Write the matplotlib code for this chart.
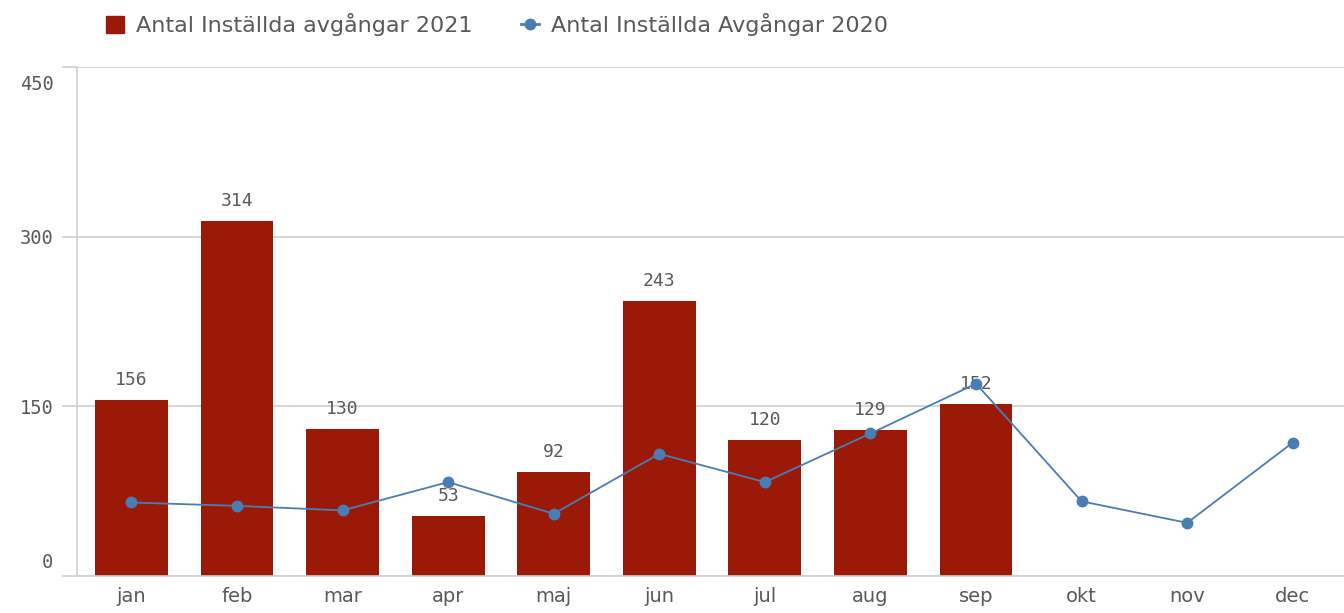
import matplotlib
matplotlib.use("Agg")
from matplotlib import pyplot as plt
from matplotlib.patches import Patch
from matplotlib.lines import Line2D
import matplotlib.transforms as mtransforms
import numpy as np

months = ['jan', 'feb', 'mar', 'apr', 'maj', 'jun', 'jul', 'aug', 'sep', 'okt', 'nov', 'dec']
cancelled_2021 = [156, 314, 130, 53, 92, 243, 120, 129, 152]
cancelled_2020 = [65, 62, 58, 83, 55, 108, 83, 126, 170, 66, 47, 118]
y_ticks = [0, 150, 300, 450]

BAR = '#9b1a07'
LINE = '#4a7db3'
GRID = '#d0d0d0'
TXT = '#595959'
SANS = ['DejaVu Sans']
MONO = ['DejaVu Sans Mono']

fig = plt.figure(figsize=(13.44, 6.13), dpi=100)
ax = fig.add_axes([77 / 1344, 1 - 576 / 613, 1 - 77 / 1344, (576 - 67) / 613])

x = np.arange(len(months))
xb = x[:len(cancelled_2021)] + 0.015
ax.bar(xb, cancelled_2021, width=0.69, color=BAR, zorder=2)
for xi, v in zip(xb, cancelled_2021):
    ax.annotate(str(v), (xi, v), xytext=(0, 11), textcoords='offset pixels',
                ha='center', va='bottom', fontsize=13, family=MONO, color=TXT, zorder=3)
ax.plot(x + 0.015, cancelled_2020, color=LINE, lw=1.3, marker='o', ms=7.5, zorder=4)

ax.set_xlim(-0.5, len(months) - 0.5)
ax.set_ylim(0, 450)
ax.set_yticks(y_ticks)
ax.set_yticklabels([str(t) for t in y_ticks], family=MONO, fontsize=13.5, color=TXT)
ax.set_xticks(x + 0.015)
ax.set_xticklabels(months, family=SANS, fontsize=14, color=TXT)
ax.tick_params(axis='x', length=0, pad=8)
ax.tick_params(axis='y', length=11, color=GRID, width=1.2, pad=6)
ax.grid(axis='y', color=GRID, lw=1.2, zorder=0)
for s in ['top', 'right']:
    ax.spines[s].set_visible(False)
ax.spines['left'].set_color(GRID)
ax.spines['bottom'].set_color(GRID)
ax.spines['left'].set_linewidth(1.2)
ax.spines['bottom'].set_linewidth(1.2)

# end labels are pushed inside the plot area
ylabels = ax.get_yticklabels()
ylabels[0].set_transform(ylabels[0].get_transform() +
                         mtransforms.ScaledTranslation(0, 16 / 100, fig.dpi_scale_trans))
ylabels[-1].set_transform(ylabels[-1].get_transform() +
                          mtransforms.ScaledTranslation(0, -15 / 100, fig.dpi_scale_trans))

handles = [Patch(color=BAR, label='Antal Inställda avgångar 2021'),
           Line2D([], [], color=LINE, marker='o', ms=7.5, lw=2, label='Antal Inställda Avgångar 2020')]
leg = fig.legend(handles=handles, loc='center left', bbox_to_anchor=(86 / 1344, 1 - 25 / 613),
                 ncol=2, frameon=False, prop={'family': SANS, 'size': 16},
                 handlelength=0.8, handleheight=0.8, columnspacing=2.2, handletextpad=0.55)
for t in leg.get_texts():
    t.set_color(TXT)

fig.savefig('out.png', dpi=100)
